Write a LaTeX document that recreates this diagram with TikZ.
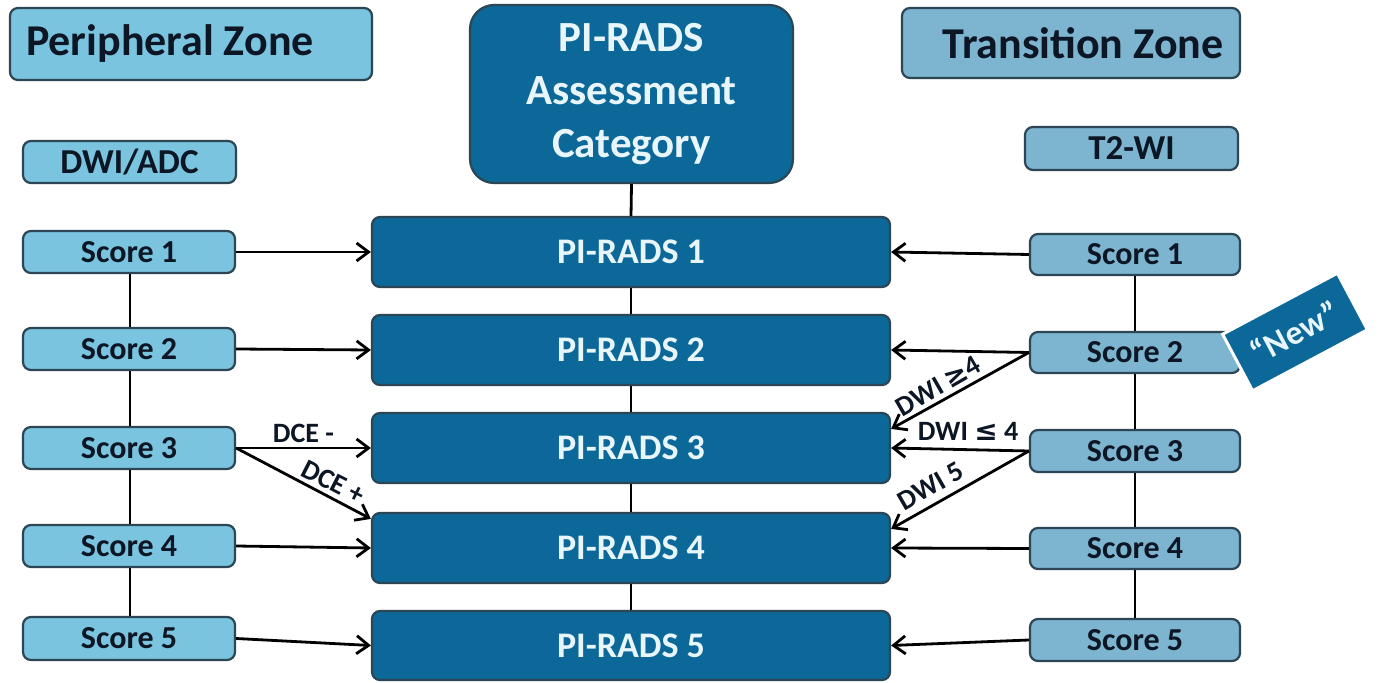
\documentclass[tikz,border=0pt]{standalone}
\usepackage{fontspec}
\setmainfont{Carlito}
\newfontfamily\symfont{DejaVu Sans}
\usetikzlibrary{arrows.meta,calc}
\definecolor{lightL}{RGB}{122,196,224}
\definecolor{lightR}{RGB}{125,180,207}
\definecolor{darkB}{RGB}{11,104,152}
\definecolor{edgeC}{RGB}{45,70,85}
\definecolor{txtD}{RGB}{12,22,36}
\definecolor{txtL}{RGB}{232,246,252}
\newcommand\pbox[7]{\node[#1, minimum width={(#5-#3)*0.5pt}, minimum height={(#6-#4)*0.5pt}] (#2) at ({(#3+#5)/2},{(#4+#6)/2}) {#7};}
\begin{document}
\begin{tikzpicture}[x=0.5pt,y=-0.5pt,
  box/.style={draw=edgeC, line width=1.1pt, rounded corners=4pt, inner sep=0pt, text=txtD},
  lbox/.style={box, fill=lightL},
  rbox/.style={box, fill=lightR},
  dbox/.style={box, fill=darkB, text=txtL},
  fhead/.style={font=\fontsize{22}{24}\selectfont\bfseries},
  fsub/.style={font=\fontsize{17.5}{20}\selectfont\bfseries},
  fscore/.style={font=\fontsize{16}{18}\selectfont\bfseries},
  fpi/.style={font=\fontsize{18}{20}\selectfont\bfseries},
  lab/.style={font=\fontsize{14}{16}\selectfont\bfseries, text=txtD, inner sep=1pt},
  arr/.style={-{Straight Barb[length=6pt,width=9pt]}, line width=1.4pt, draw=black},
  conn/.style={line width=1.4pt, draw=black},
  newtag/.style={fill=darkB, draw=white, line width=1.5pt, text=txtL, inner sep=0pt,
    font=\fontsize{17}{19}\selectfont\bfseries}
]
\useasboundingbox[fill=white] (0,0) rectangle (1379,683);

% headings
\pbox{lbox, fhead}{pz}{10}{8}{372}{80}{Peripheral Zone\hspace*{21pt}}
\pbox{rbox, fhead}{tz}{902}{8}{1240}{78}{\hspace*{12pt}Transition Zone}
\pbox{lbox, fsub}{dwi}{23}{141}{236}{183}{DWI/ADC}
\pbox{rbox, fsub}{t2}{1025}{127}{1238}{170}{T2-WI}

% central
\pbox{dbox, rounded corners=12pt, align=center, font=\fontsize{21.5}{26.5}\selectfont\bfseries}{cat}{470}{5}{793}{183}{PI-RADS\\Assessment\\Category}
\pbox{dbox, fpi}{pr1}{372}{217}{890}{287}{PI-RADS 1}
\pbox{dbox, fpi}{pr2}{372}{315}{890}{385}{PI-RADS 2}
\pbox{dbox, fpi}{pr3}{372}{413}{890}{483}{PI-RADS 3}
\pbox{dbox, fpi}{pr4}{372}{513}{890}{583}{PI-RADS 4}
\pbox{dbox, fpi}{pr5}{372}{611}{890}{680}{PI-RADS 5}

% left scores
\pbox{lbox, fscore}{ls1}{23}{231}{235}{273}{Score 1}
\pbox{lbox, fscore}{ls2}{23}{328}{235}{370}{Score 2}
\pbox{lbox, fscore}{ls3}{23}{427}{235}{469}{Score 3}
\pbox{lbox, fscore}{ls4}{23}{525}{235}{567}{Score 4}
\pbox{lbox, fscore}{ls5}{23}{617}{235}{660}{Score 5}

% right scores
\pbox{rbox, fscore}{rs1}{1030}{234}{1240}{275}{Score 1}
\pbox{rbox, fscore}{rs2}{1030}{332}{1240}{373}{Score 2}
\pbox{rbox, fscore}{rs3}{1030}{430}{1240}{472}{Score 3}
\pbox{rbox, fscore}{rs4}{1030}{528}{1240}{569}{Score 4}
\pbox{rbox, fscore}{rs5}{1030}{619}{1240}{661}{Score 5}

% "New" tag
\node[newtag, rotate=28, minimum width=65pt, minimum height=32pt] (new) at (1295,332) {“New”};

% vertical connectors
\draw[conn] (cat.south) -- (pr1.north);
\draw[conn] (pr1.south) -- (pr2.north);
\draw[conn] (pr2.south) -- (pr3.north);
\draw[conn] (pr3.south) -- (pr4.north);
\draw[conn] (pr4.south) -- (pr5.north);
\foreach \a/\b in {1/2,2/3,3/4,4/5}{
  \draw[conn] ([xshift=0.5pt]ls\a.south) -- ([xshift=0.5pt]ls\b.north);
  \draw[conn] (rs\a.south) -- (rs\b.north);
}

% left arrows
\draw[arr] (ls1.east) -- (pr1.west);
\draw[arr] (ls2.east) -- (pr2.west);
\draw[arr] (ls3.east) -- (pr3.west) node[lab, midway, above=1pt] {DCE -};
\draw[arr] (ls3.east) -- ($(pr4.north west)+(0,7)$);
\draw[arr] (ls4.east) -- (pr4.west);
\draw[arr] (ls5.east) -- (pr5.west);
\node[lab, rotate=-27] (dcep) at (333,482) {DCE +};

% right arrows
\draw[arr] (rs1.west) -- (pr1.east);
\draw[arr] (rs2.west) -- (pr2.east);
\draw[arr] (rs2.west) -- ($(pr3.north east)+(0,17)$);
\draw[arr] (rs3.west) -- (pr3.east);
\draw[arr] (rs3.west) -- ($(pr4.north east)+(0,17)$);
\draw[arr] (rs4.west) -- (pr4.east);
\draw[arr] (rs5.west) -- (pr5.east);
\node[lab, rotate=30] (dwi4) at (938,386) {DWI{\symfont\bfseries\,≥}4};
\node[lab] (dwile) at (968,431) {DWI {\symfont\bfseries ≤} 4};
\node[lab, rotate=30] (dwi5) at (931,486) {DWI 5};
\end{tikzpicture}
\end{document}
